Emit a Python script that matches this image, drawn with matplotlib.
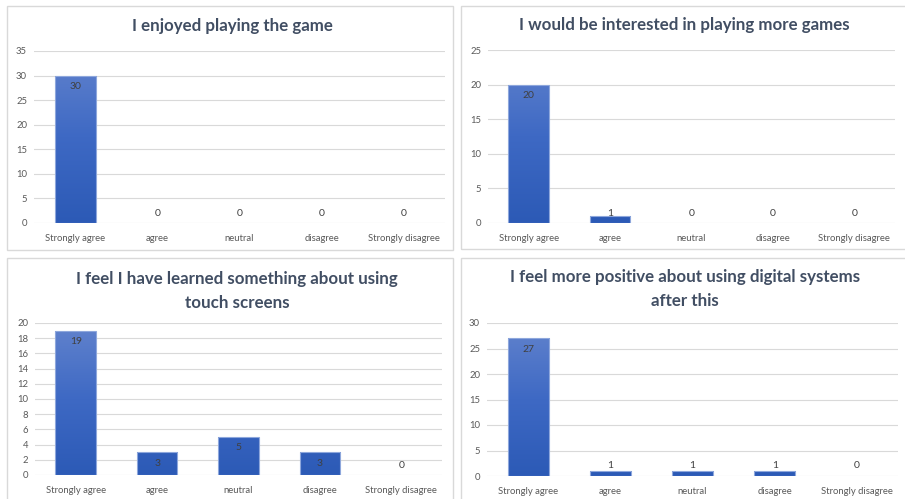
import numpy as np
import matplotlib
matplotlib.use("Agg")
import matplotlib.pyplot as plt
from matplotlib.patches import Rectangle
from matplotlib.colors import LinearSegmentedColormap

categories = ["Strongly agree", "agree", "neutral", "disagree", "Strongly disagree"]

enjoyed = [30, 0, 0, 0, 0]
more_games = [20, 1, 0, 0, 0]
learned = [19, 3, 5, 3, 0]
positive = [27, 1, 1, 1, 0]

titles = [
    "I enjoyed playing the game",
    "I would be interested in playing more games",
    "I feel I have learned something about using\ntouch screens",
    "I feel more positive about using digital systems\nafter this",
]
y_limits = [35, 25, 20, 30]
y_steps = [5, 5, 2, 5]

W, H = 905, 499
fig = plt.figure(figsize=(W / 100, H / 100), dpi=100)
fig.patch.set_facecolor("white")

FONT = "Lato"
TITLE_COLOR = "#414e63"
TICK_COLOR = "#595959"
GRID_COLOR = "#d9d9d9"

bar_cmap = LinearSegmentedColormap.from_list("bar", ["#2c5ab6", "#3e69c4", "#6283cd"])


def fig_rect(x0, y0, x1, y1):
    """Pixel box (top-left origin) to figure fraction [l, b, w, h]."""
    return [x0 / W, 1 - y1 / H, (x1 - x0) / W, (y1 - y0) / H]


# panel frames: (left, top, right, bottom) in pixels
frames = [(7, 6, 453, 250), (461, 6, 920, 249), (7, 258, 453, 520), (461, 258, 920, 520)]
# plot areas: (left, top, right, bottom) in pixels, top = y-axis max, bottom = 0
plots = [(34, 51, 445, 223), (488, 50, 895, 223), (35, 323, 442, 475), (487, 323, 898, 476)]
# title anchors (x center, y center) in pixels
title_pos = [(232, 26), (684, 25), (237, 291), (685, 289)]

series = [enjoyed, more_games, learned, positive]

for values, title, ymax, step, frame, plot, tpos in zip(
        series, titles, y_limits, y_steps, frames, plots, title_pos):
    l, t, r, b = frame
    fig.patches.append(Rectangle((l / W, 1 - b / H), (r - l) / W, (b - t) / H,
                                 transform=fig.transFigure, fill=False,
                                 edgecolor="#d9d9d9", linewidth=1.0))

    ax = fig.add_axes(fig_rect(*plot))
    x = np.arange(len(categories))
    bars = ax.bar(x, values, width=0.5, color="none", edgecolor="#8ea7dc",
                  linewidth=0.8, zorder=3)
    ax.set_xlim(-0.5, len(categories) - 0.5)
    ax.set_ylim(0, ymax)
    ax.set_yticks(np.arange(0, ymax + step / 2, step))
    ax.set_xticks(x)
    ax.set_xticklabels(categories)

    grad = np.linspace(0, 1, 256).reshape(-1, 1)
    for bar in bars:
        if bar.get_height() <= 0:
            bar.set_linewidth(0)
            continue
        bx = bar.get_x()
        im = ax.imshow(grad, cmap=bar_cmap, aspect="auto", origin="lower",
                       extent=(bx, bx + bar.get_width(), 0, ymax), zorder=2,
                       interpolation="bilinear")
        im.set_clip_path(bar)

    ax.grid(axis="y", color=GRID_COLOR, linewidth=0.8, zorder=0)
    ax.set_axisbelow(True)
    for s in ax.spines.values():
        s.set_visible(False)
    ax.tick_params(length=0, labelsize=6.8, labelcolor=TICK_COLOR, pad=5)
    for lab in ax.get_xticklabels() + ax.get_yticklabels():
        lab.set_fontfamily(FONT)
    ax.tick_params(axis="x", pad=8)

    # value labels: inside the bar end when it fits, otherwise above the base
    px_per_unit = (plot[3] - plot[1]) / ymax
    for xi, v in zip(x, values):
        if v * px_per_unit >= 21:
            ax.annotate(str(v), (xi, v), xytext=(0, -11), textcoords="offset pixels",
                        ha="center", va="center", fontsize=7.5, color="#404040",
                        family=FONT, zorder=5)
        else:
            ax.annotate(str(v), (xi, 0), xytext=(0, 10), textcoords="offset pixels",
                        ha="center", va="center", fontsize=7.5, color="#404040",
                        family=FONT, zorder=5)

    fig.text(tpos[0] / W, 1 - tpos[1] / H, title, ha="center", va="center",
             fontsize=12.2, fontweight="bold", color=TITLE_COLOR, family=FONT,
             linespacing=1.55)

fig.savefig("out.png", dpi=100, facecolor="white")
